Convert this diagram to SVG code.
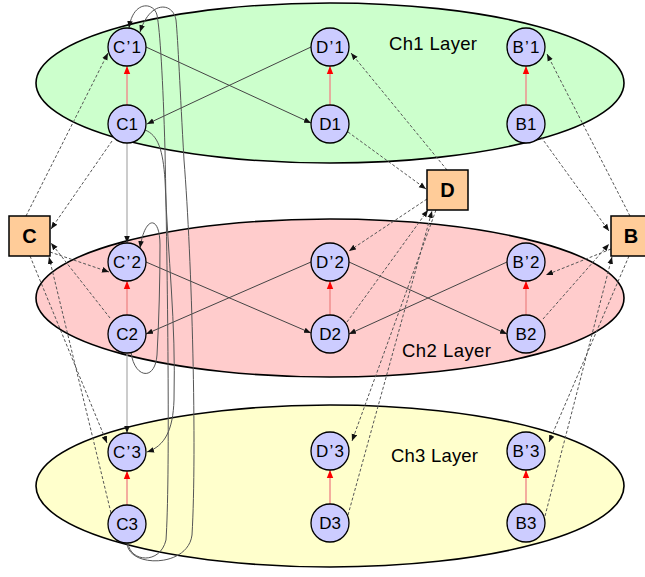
<svg xmlns="http://www.w3.org/2000/svg" width="645" height="577" viewBox="0 0 645 577">
<style>
.lay{stroke:#000;stroke-width:1.6}
.n circle{fill:#ccccff;stroke:#000;stroke-width:1.3}
.n text{font-family:"Liberation Sans",Arial,sans-serif;font-size:17px;text-anchor:middle;fill:#000}
.b rect{fill:#ffcc99;stroke:#000;stroke-width:1.5}
.b text{font-family:"Liberation Sans",Arial,sans-serif;font-size:20px;font-weight:bold;text-anchor:middle;fill:#000}
.lbl{font-family:"Liberation Sans",Arial,sans-serif;font-size:18.5px;fill:#000}
.red{stroke:#f08a8a;stroke-width:1.4;fill:none;marker-end:url(#ar)}
.sol{stroke:#444;stroke-width:1;fill:none;marker-end:url(#ak)}
.gry{stroke:#aaa;stroke-width:1.2;fill:none;marker-end:url(#ak)}
.cur{stroke:#555;stroke-width:1;fill:none;marker-end:url(#ak)}
.dsh{stroke:#555;stroke-width:1;fill:none;stroke-dasharray:3 2;marker-end:url(#ak)}
</style>
<defs>
<marker id="ak" viewBox="0 0 10 10" refX="10" refY="5" markerWidth="7" markerHeight="7" orient="auto" markerUnits="userSpaceOnUse"><path d="M0,1 L10,5 L0,9 z" fill="#111"/></marker>
<marker id="ar" viewBox="0 0 10 10" refX="10" refY="5" markerWidth="8" markerHeight="8" orient="auto" markerUnits="userSpaceOnUse"><path d="M0,1 L10,5 L0,9 z" fill="#ff0000"/></marker>
</defs>
<g id="layers">
<ellipse id="ch1" class="lay" cx="330" cy="83" rx="294" ry="80" fill="#ccffcc"/>
<ellipse id="ch2" class="lay" cx="330" cy="298" rx="294" ry="79" fill="#ffcccc"/>
<ellipse id="ch3" class="lay" cx="330" cy="486" rx="294" ry="81" fill="#ffffcc"/>
<text class="lbl" x="389" y="50" textLength="88" lengthAdjust="spacing">Ch1 Layer</text>
<text class="lbl" x="402" y="357" textLength="89" lengthAdjust="spacing">Ch2 Layer</text>
<text class="lbl" x="391" y="462" textLength="87" lengthAdjust="spacing">Ch3 Layer</text>
</g>
<g id="connectors">
<path class="red" d="M127,105 L127,66"/>
<path class="red" d="M330,105 L330,66"/>
<path class="red" d="M526,105 L526,66"/>
<path class="red" d="M127,315 L127,281"/>
<path class="red" d="M330,315 L330,281"/>
<path class="red" d="M526,315 L526,281"/>
<path class="red" d="M127,505 L127,471"/>
<path class="red" d="M330,504 L330,470"/>
<path class="red" d="M526,504 L526,470"/>
<path class="sol" d="M146,47 L311,123"/>
<path class="sol" d="M311,47 L147,124"/>
<path class="sol" d="M146,262 L311,333"/>
<path class="sol" d="M311,262 L146,334"/>
<path class="sol" d="M349,262 L507,334"/>
<path class="sol" d="M507,262 L349,334"/>
<path class="gry" d="M127,143 L127,243"/>
<path class="gry" d="M127,353 L127,433"/>
<path class="cur" d="M128,543 C130,562 160,565 166,540 C170,480 168,300 165,150 C163,80 160,30 157,15 C154,2 133,0 129,28"/>
<path class="cur" d="M127,543 C128,568 188,568 192,535 C197,450 192,260 184,160 C180,90 178,40 176,20 C173,2 150,0 140,32"/>
<path class="cur" d="M145,130 C158,135 163,150 165,180 C168,260 176,320 174,400 C173,430 165,446 147,452"/>
<path class="cur" d="M131,352 C134,378 155,382 157,355 C159,320 160,280 160,245 C160,215 145,215 140,248"/>
<path class="dsh" d="M26,216 L108,53"/>
<path class="dsh" d="M112,141 L51,229"/>
<path class="dsh" d="M110,318 L51,243"/>
<path class="dsh" d="M50,252 L109,272"/>
<path class="dsh" d="M30,256 L107,443"/>
<path class="dsh" d="M111,513 L49,257"/>
<path class="dsh" d="M348,132 L426,189"/>
<path class="dsh" d="M447,170 L351,53"/>
<path class="dsh" d="M427,199 L349,251"/>
<path class="dsh" d="M347,322 L428,210"/>
<path class="dsh" d="M436,210 L352,441"/>
<path class="dsh" d="M348,515 L432,211"/>
<path class="dsh" d="M541,137 L609,231"/>
<path class="dsh" d="M630,216 L547,54"/>
<path class="dsh" d="M611,249 L546,275"/>
<path class="dsh" d="M543,319 L609,244"/>
<path class="dsh" d="M629,256 L549,442"/>
<path class="dsh" d="M545,516 L612,257"/>
</g>
<g id="C1p" class="n"><circle cx="127" cy="47" r="19"/><text x="127" y="53" textLength="28" lengthAdjust="spacing">C’1</text></g>
<g id="C1" class="n"><circle cx="127" cy="124" r="19"/><text x="127" y="130">C1</text></g>
<g id="D1p" class="n"><circle cx="330" cy="47" r="19"/><text x="330" y="53" textLength="28" lengthAdjust="spacing">D’1</text></g>
<g id="D1" class="n"><circle cx="330" cy="124" r="19"/><text x="330" y="130">D1</text></g>
<g id="B1p" class="n"><circle cx="526" cy="47" r="19"/><text x="526" y="53" textLength="27" lengthAdjust="spacing">B’1</text></g>
<g id="B1" class="n"><circle cx="526" cy="124" r="19"/><text x="526" y="130">B1</text></g>
<g id="C2p" class="n"><circle cx="127" cy="262" r="19"/><text x="127" y="268" textLength="28" lengthAdjust="spacing">C’2</text></g>
<g id="C2" class="n"><circle cx="127" cy="334" r="19"/><text x="127" y="340">C2</text></g>
<g id="D2p" class="n"><circle cx="330" cy="262" r="19"/><text x="330" y="268" textLength="28" lengthAdjust="spacing">D’2</text></g>
<g id="D2" class="n"><circle cx="330" cy="334" r="19"/><text x="330" y="340">D2</text></g>
<g id="B2p" class="n"><circle cx="526" cy="262" r="19"/><text x="526" y="268" textLength="27" lengthAdjust="spacing">B’2</text></g>
<g id="B2" class="n"><circle cx="526" cy="334" r="19"/><text x="526" y="340">B2</text></g>
<g id="C3p" class="n"><circle cx="127" cy="452" r="19"/><text x="127" y="458" textLength="28" lengthAdjust="spacing">C’3</text></g>
<g id="C3" class="n"><circle cx="127" cy="524" r="19"/><text x="127" y="530">C3</text></g>
<g id="D3p" class="n"><circle cx="330" cy="451" r="19"/><text x="330" y="457" textLength="28" lengthAdjust="spacing">D’3</text></g>
<g id="D3" class="n"><circle cx="330" cy="523" r="19"/><text x="330" y="529">D3</text></g>
<g id="B3p" class="n"><circle cx="526" cy="451" r="19"/><text x="526" y="457" textLength="27" lengthAdjust="spacing">B’3</text></g>
<g id="B3" class="n"><circle cx="526" cy="523" r="19"/><text x="526" y="529">B3</text></g>
<g id="C" class="b"><rect x="9" y="216" width="41" height="40"/><text x="29.5" y="243">C</text></g>
<g id="D" class="b"><rect x="427" y="170" width="41" height="40"/><text x="447.5" y="197">D</text></g>
<g id="B" class="b"><rect x="611" y="216" width="41" height="40"/><text x="631" y="243">B</text></g>
</svg>
